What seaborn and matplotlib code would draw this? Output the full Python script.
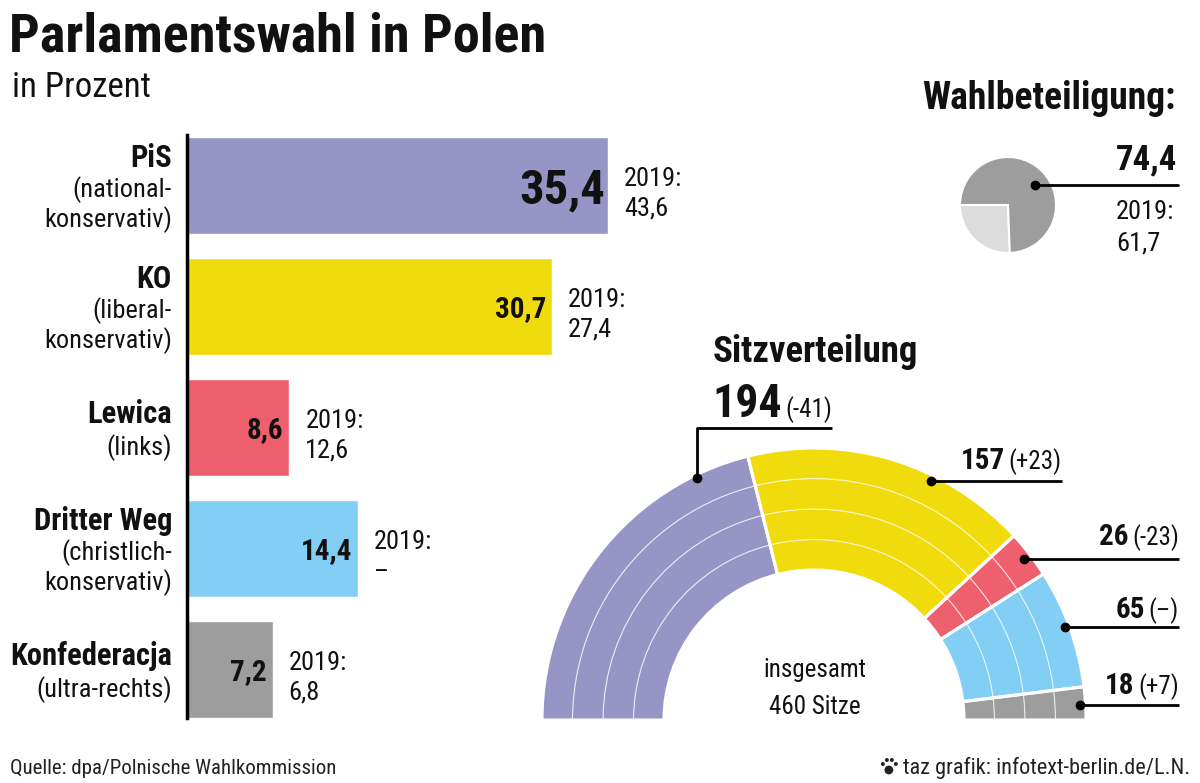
import matplotlib
matplotlib.use('Agg')
import matplotlib.pyplot as plt
from matplotlib import font_manager
import seaborn as sns
import pandas as pd

# Daten
parteien = ['PiS', 'KO', 'Lewica', 'Dritter Weg', 'Konfederacja']
ausrichtung = [['(national-', 'konservativ)'], ['(liberal-', 'konservativ)'], ['(links)'],
               ['(christlich-', 'konservativ)'], ['(ultra-rechts)']]
prozent = [35.4, 30.7, 8.6, 14.4, 7.2]
prozent_2019 = ['43,6', '27,4', '12,6', '–', '6,8']
farben = ['#9795c5', '#f0dc0c', '#ee606d', '#83cef4', '#9d9d9d']
sitze = [194, 157, 26, 65, 18]
sitze_diff = ['(-41)', '(+23)', '(-23)', '(–)', '(+7)']
beteiligung = 74.4
beteiligung_2019 = '61,7'

sns.set_theme(style='white')

# schmale Schrift suchen
fm = font_manager.fontManager.ttflist
namen = {f.name for f in fm}
schrift, stretch = 'Roboto', 'normal'
for n in ['Roboto Condensed', 'Liberation Sans Narrow', 'Open Sans Condensed', 'Noto Sans Condensed']:
    if n in namen:
        schrift = n
        break
else:
    for n in ['Roboto', 'Noto Sans', 'Open Sans', 'DejaVu Sans', 'Liberation Sans']:
        if any(f.name == n and 'condensed' in str(f.stretch) for f in fm):
            schrift, stretch = n, 'condensed'
            break
plt.rcParams['font.family'] = [schrift, 'DejaVu Sans']
plt.rcParams['font.stretch'] = stretch

W, H = 1200, 783
fig = plt.figure(figsize=(W / 100, H / 100), dpi=100)
fig.patch.set_facecolor('white')


def box(x0, y0, x1, y1):
    # Pixel (von oben) -> Figure-Anteile
    return [x0 / W, 1 - y1 / H, (x1 - x0) / W, (y1 - y0) / H]


def fmt(v):
    return f'{v:.1f}'.replace('.', ',')


PT = 0.72  # px -> pt

# Balkendiagramm
ax = fig.add_axes(box(187, 135, 187 + 11.89 * 40, 718))
df = pd.DataFrame({'partei': parteien, 'prozent': prozent})
sns.barplot(data=df, x='prozent', y='partei', hue='partei', palette=farben,
            width=0.8, saturation=1, legend=False, ax=ax)
ax.set_xlim(0, 40)
ax.set_ylim(4.4, -0.42)
ax.set_xlabel('')
ax.set_ylabel('')
ax.set_xticks([])
ax.set_yticks([])
for s in ['top', 'right', 'bottom']:
    ax.spines[s].set_visible(False)
ax.spines['left'].set_color('black')
ax.spines['left'].set_linewidth(2.5)
ax.set_facecolor('none')

for i, (p, v, alt, besch) in enumerate(zip(parteien, prozent, prozent_2019, ausrichtung)):
    gross = 35 if i == 0 else 21
    ax.annotate(fmt(v), xy=(v, i), xytext=(-3 * PT if i == 0 else -6 * PT, -gross * 0.5 * PT),
                textcoords='offset points', ha='right', va='baseline',
                fontsize=gross, fontweight='bold', color='#111111')
    ax.annotate('2019:', xy=(v, i), xytext=(16 * PT, 0), textcoords='offset points',
                ha='left', va='baseline', fontsize=19, color='#111111')
    ax.annotate(alt, xy=(v, i), xytext=(16 * PT, -30 * PT), textcoords='offset points',
                ha='left', va='baseline', fontsize=19, color='#111111')
    # Beschriftung links
    if len(besch) == 2:
        dy = [-30, 2, 32]
    else:
        dy = [-16, 18]
    zeilen = [p] + besch
    for k, (z, d) in enumerate(zip(zeilen, dy)):
        fs = 22 if k == 0 else 19
        ax.annotate(z, xy=(0, i), xycoords=ax.get_yaxis_transform(),
                    xytext=(-15 * PT, -(d + fs * 0.5) * PT), textcoords='offset points',
                    ha='right', va='baseline', fontsize=fs,
                    fontweight='bold' if k == 0 else 'normal', color='#111111')

# Wahlbeteiligung (Kreis)
axp = fig.add_axes(box(1008 - 55, 205 - 55, 1008 + 55, 205 + 55))
axp.pie([100 - beteiligung, beteiligung], radius=48, colors=['#dcdcdc', '#9d9d9d'],
        startangle=180, counterclock=True,
        wedgeprops=dict(edgecolor='white', linewidth=1.5))
axp.set_xlim(-55, 55)
axp.set_ylim(-55, 55)
axp.set_aspect('auto')
axp.axis('off')

# Sitzverteilung (Halbkreis, 4 Reihen)
axs = fig.add_axes(box(814 - 300, 720 - 288, 814 + 300, 720 + 12))
R_in, R_out = 150, 272
breite = (R_out - R_in) / 4
werte = sitze + [sum(sitze)]
for k in range(4):
    wedges, _ = axs.pie(werte, radius=R_in + breite * (k + 1), center=(0, 0),
                        startangle=180, counterclock=False, colors=farben + ['none'],
                        wedgeprops=dict(width=breite, edgecolor='#ffffffa0', linewidth=0.8))
    wedges[-1].set_edgecolor('none')
wedges, _ = axs.pie(werte, radius=R_out, center=(0, 0), startangle=180, counterclock=False,
                    colors=['none'] * len(werte),
                    wedgeprops=dict(width=R_out - R_in, edgecolor='white', linewidth=2.2))
wedges[-1].set_edgecolor('none')
axs.set_xlim(-300, 300)
axs.set_ylim(-12, 288)
axs.set_aspect('auto')
axs.axis('off')

# Overlay fuer Texte und Hinweislinien (Pixelkoordinaten)
ov = fig.add_axes([0, 0, 1, 1])
ov.set_xlim(0, W)
ov.set_ylim(H, 0)
ov.axis('off')
ov.set_zorder(10)

ov.text(9, 52, 'Parlamentswahl in Polen', fontsize=39, fontweight='bold',
        ha='left', va='baseline', color='#111111')
ov.text(12, 97, 'in Prozent', fontsize=25, ha='left', va='baseline', color='#111111')

ov.text(1176, 109, 'Wahlbeteiligung:', fontsize=27, fontweight='bold',
        ha='right', va='baseline', color='#111111')
ov.text(1177, 169, fmt(beteiligung), fontsize=25, fontweight='bold',
        ha='right', va='baseline', color='#111111')
ov.plot([1035, 1178], [185, 185], color='black', lw=2)
ov.plot([1035], [185], 'o', color='black', ms=6)
ov.text(1116, 219, '2019:', fontsize=19, ha='left', va='baseline', color='#111111')
ov.text(1116, 250, beteiligung_2019, fontsize=19, ha='left', va='baseline', color='#111111')

ov.text(713, 362, 'Sitzverteilung', fontsize=26.5, fontweight='bold',
        ha='left', va='baseline', color='#111111')
ov.text(815, 677, 'insgesamt', fontsize=18, ha='center', va='baseline', color='#111111')
ov.text(815, 714, f'{sum(sitze)} Sitze', fontsize=18, ha='center', va='baseline', color='#111111')

renderer = fig.canvas.get_renderer()


def sitz_label(x, y, zahl, diff, gross, rechts=True):
    klein = 18
    if rechts:
        t2 = ov.text(x, y, diff, fontsize=klein, ha='right', va='baseline', color='#111111')
        w = t2.get_window_extent(renderer).width
        ov.text(x - w - 4, y, zahl, fontsize=gross, fontweight='bold',
                ha='right', va='baseline', color='#111111')
    else:
        t1 = ov.text(x, y, zahl, fontsize=gross, fontweight='bold',
                     ha='left', va='baseline', color='#111111')
        w = t1.get_window_extent(renderer).width
        ov.text(x + w + 4, y, diff, fontsize=klein, ha='left', va='baseline', color='#111111')


# Hinweislinien: (Punkt, Linienende, Textposition)
hinweise = [
    ([697, 697, 832], [478, 428, 428], (712, 417), False, 33),
    ([931, 1062], [481, 481], (1062, 469), True, 21),
    ([1024, 1179], [559, 559], (1179, 545), True, 21),
    ([1065, 1179], [627, 627], (1179, 618), True, 21),
    ([1080, 1179], [705, 705], (1179, 694), True, 21),
]
for (xs, ys, (tx, ty), rechts, gross), z, d in zip(hinweise, sitze, sitze_diff):
    ov.plot(xs, ys, color='black', lw=2, solid_capstyle='butt')
    ov.plot([xs[0]], [ys[0]], 'o', color='black', ms=6)
    sitz_label(tx, ty, str(z), d, gross, rechts)

# Fusszeile
ov.text(10, 774, 'Quelle: dpa/Polnische Wahlkommission', fontsize=15,
        ha='left', va='baseline', color='#222222')
t_taz = ov.text(1190, 774, 'taz grafik: infotext-berlin.de/L.N.', fontsize=16,
                ha='right', va='baseline', color='#222222')
x_taz = t_taz.get_window_extent(renderer).x0 - 14
ov.scatter([x_taz, x_taz - 6, x_taz - 2, x_taz + 3, x_taz + 7], [770, 764, 760, 760, 764],
           s=[40, 8, 8, 8, 8], color='#222222', linewidths=0)

fig.savefig('out.png', dpi=100)
